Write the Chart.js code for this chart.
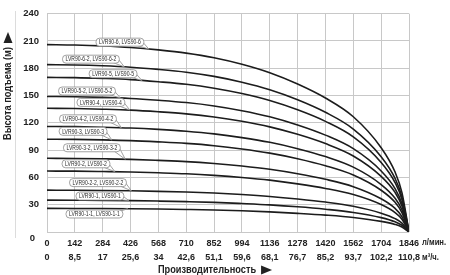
<!DOCTYPE html>
<html>
<head>
<meta charset="utf-8">
<script src="https://cdn.jsdelivr.net/npm/chart.js@4.4.1/dist/chart.umd.min.js"></script>
<style>
  html, body { margin: 0; padding: 0; background: #fff; }
  #wrap { width: 450px; height: 275px; }
</style>
</head>
<body>
<div id="wrap"><canvas id="pumpChart" width="450" height="275"></canvas></div>
<script>
// axis ticks
const flowLpm = [0, 142, 284, 426, 568, 710, 852, 994, 1136, 1278, 1420, 1562, 1704, 1846];
const flowM3h = ['0', '8,5', '17', '25,6', '34', '42,6', '51,1', '59,6', '68,1', '76,7', '85,2', '93,7', '102,2', '110,8'];
const headTicks = [0, 30, 60, 90, 120, 150, 180, 210, 240];

// flow points where the curves were read (л/мин)
const pointQ = [0, 142, 284, 426, 568, 710, 852, 994, 1136, 1278, 1420, 1562, 1704, 1775, 1810, 1846];

const models = [
  'LVR90-6, LVS90-6', 'LVR90-6-2, LVS90-6-2', 'LVR90-5, LVS90-5', 'LVR90-5-2, LVS90-5-2',
  'LVR90-4, LVS90-4', 'LVR90-4-2, LVS90-4-2', 'LVR90-3, LVS90-3', 'LVR90-3-2, LVS90-3-2',
  'LVR90-2, LVS90-2', 'LVR90-2-2, LVS90-2-2', 'LVR90-1, LVS90-1', 'LVR90-1-1, LVS90-1-1'
];

// head values (м)
const head6   = [206, 205.6, 204.6, 202.9, 200.2, 196.7, 191.6, 184.4, 175.1, 162.7, 147.3, 126.7, 92.7, 65.9, 43.3, 0];
const head6_2 = [184, 183.6, 182.7, 181.2, 178.8, 175.7, 171.1, 164.7, 156.4, 145.4, 131.6, 113.2, 82.8, 58.9, 38.6, 0];
const head5   = [170, 169.7, 168.8, 167.5, 165.2, 162.4, 158.1, 152.2, 144.5, 134.3, 121.6, 104.6, 76.5, 54.4, 35.7, 0];
const head5_2 = [149, 148.7, 148, 146.8, 144.8, 142.3, 138.6, 133.4, 126.7, 117.7, 106.5, 91.6, 67.1, 47.7, 31.3, 0];
const head4   = [136, 135.7, 135, 134, 132.2, 129.9, 126.5, 121.7, 115.6, 107.4, 97.2, 83.6, 61.2, 43.5, 28.6, 0];
const head4_2 = [116, 115.8, 115.2, 114.3, 112.8, 110.8, 107.9, 103.8, 98.6, 91.6, 82.9, 71.3, 52.2, 37.1, 24.4, 0];
const head3   = [102, 101.8, 101.3, 100.5, 99.1, 97.4, 94.9, 91.3, 86.7, 80.6, 72.9, 62.7, 45.9, 32.6, 21.4, 0];
const head3_2 = [81, 80.8, 80.4, 79.8, 78.7, 77.4, 75.3, 72.5, 68.9, 64, 57.9, 49.8, 36.5, 25.9, 17, 0];
const head2   = [67, 66.9, 66.5, 66, 65.1, 64, 62.3, 60, 57, 52.9, 47.9, 41.2, 30.2, 21.4, 14.1, 0];
const head2_2 = [46, 45.9, 45.7, 45.3, 44.7, 43.9, 42.8, 41.2, 39.1, 36.3, 32.9, 28.3, 20.7, 14.7, 9.7, 0];
const head1   = [35, 34.9, 34.8, 34.5, 34, 33.4, 32.6, 31.3, 29.8, 27.7, 25, 21.5, 15.8, 11.2, 7.4, 0];
const head1_1 = [26, 25.9, 25.8, 25.6, 25.3, 24.8, 24.2, 23.3, 22.1, 20.5, 18.6, 16, 11.7, 8.3, 5.5, 0];

const allHeads = [head6, head6_2, head5, head5_2, head4, head4_2, head3, head3_2, head2, head2_2, head1, head1_1];

// where the name tags sit (centre, in axis units)
const tagQ = [372, 224, 337, 204, 275, 209, 184, 229, 199, 260, 270, 242];
const tagH = [208.7, 190, 174, 155, 142.5, 124.4, 110.7, 92.6, 75, 54.3, 39.5, 19.8];

const FONT = '"Liberation Sans", Arial, sans-serif';

// canvas text squeezed sideways, the original uses a narrow face
function narrowText(ctx, text, x, y, sx) {
  ctx.save();
  ctx.translate(x, y);
  ctx.scale(sx, 1);
  ctx.fillText(text, 0, 0);
  ctx.restore();
}

function curveYAt(chart, idx, px) {
  const pts = chart.getDatasetMeta(idx).data;
  for (let i = 1; i < pts.length; i++) {
    if (pts[i].x >= px) {
      const a = pts[i - 1], b = pts[i];
      const t = (px - a.x) / (b.x - a.x);
      return a.y + (b.y - a.y) * t;
    }
  }
  return pts[pts.length - 1].y;
}

function roundRect(ctx, x, y, w, h, r) {
  ctx.beginPath();
  ctx.moveTo(x + r, y);
  ctx.lineTo(x + w - r, y);
  ctx.arcTo(x + w, y, x + w, y + r, r);
  ctx.lineTo(x + w, y + h - r);
  ctx.arcTo(x + w, y + h, x + w - r, y + h, r);
  ctx.lineTo(x + r, y + h);
  ctx.arcTo(x, y + h, x, y + h - r, r);
  ctx.lineTo(x, y + r);
  ctx.arcTo(x, y, x + r, y, r);
  ctx.closePath();
}

const tagsPlugin = {
  id: 'tags',
  afterDatasetsDraw(chart) {
    const ctx = chart.ctx;
    const xs = chart.scales.x, ys = chart.scales.y;
    const squeeze = 0.78;
    ctx.save();
    ctx.font = '6.5px ' + FONT;
    ctx.textAlign = 'center';
    ctx.textBaseline = 'middle';
    models.forEach((name, i) => {
      const cx = xs.getPixelForValue(tagQ[i]);
      const cy = ys.getPixelForValue(tagH[i]);
      const w = ctx.measureText(name).width * squeeze + 6;
      const h = 8;
      const left = cx - w / 2, top = cy - h / 2;
      const right = left + w, bottom = top + h;
      const tipX = right + 5;
      const tipY = curveYAt(chart, i, tipX);
      const below = tipY < cy;
      ctx.fillStyle = '#fff';
      ctx.strokeStyle = '#8a8a8a';
      ctx.lineWidth = 0.8;
      // tail
      ctx.beginPath();
      if (below) {
        ctx.moveTo(right - 6, top + 0.5);
        ctx.lineTo(tipX, tipY);
        ctx.lineTo(right - 2, top + 1);
      } else {
        ctx.moveTo(right - 6, bottom - 0.5);
        ctx.lineTo(tipX, tipY);
        ctx.lineTo(right - 1, cy);
      }
      ctx.fill();
      ctx.stroke();
      roundRect(ctx, left, top, w, h, 3.5);
      ctx.fill();
      ctx.stroke();
      ctx.fillStyle = '#2a2a2a';
      narrowText(ctx, name, cx, cy + 0.5, squeeze);
    });
    ctx.restore();
  },
  afterDraw(chart) {
    const ctx = chart.ctx;
    const area = chart.chartArea;
    ctx.save();
    // thin rule at the left
    ctx.strokeStyle = '#dcdcdc';
    ctx.lineWidth = 1;
    ctx.beginPath();
    ctx.moveTo(15.5, 11);
    ctx.lineTo(15.5, 238);
    ctx.stroke();

    ctx.fillStyle = '#222';
    // zero of the head axis sits a bit low in the original
    ctx.font = 'bold 9.5px ' + FONT;
    ctx.textAlign = 'right';
    ctx.textBaseline = 'middle';
    ctx.fillText('0', area.left - 12, area.bottom + 6);

    // units
    ctx.font = 'bold 9px ' + FONT;
    ctx.textAlign = 'left';
    narrowText(ctx, 'л/мин.', 422, 242.5, 0.85);
    narrowText(ctx, 'м³/ч.', 422, 257.5, 0.85);

    // axis titles
    ctx.font = 'bold 10px ' + FONT;
    ctx.textAlign = 'left';
    const sq = 0.92;
    const tw = ctx.measureText('Производительность').width * sq;
    narrowText(ctx, 'Производительность', 158, 270, sq);
    const ax = 158 + tw + 5;
    ctx.beginPath();
    ctx.moveTo(ax, 265.5);
    ctx.lineTo(ax + 11, 270);
    ctx.lineTo(ax, 274.5);
    ctx.closePath();
    ctx.fill();

    ctx.translate(8, 140);
    ctx.rotate(-Math.PI / 2);
    const vw = ctx.measureText('Высота подъема (м)').width * sq;
    narrowText(ctx, 'Высота подъема (м)', 0, 0, sq);
    ctx.beginPath();
    ctx.moveTo(vw + 4, -4.5);
    ctx.lineTo(vw + 15, 0);
    ctx.lineTo(vw + 4, 4.5);
    ctx.closePath();
    ctx.fill();
    ctx.restore();
  }
};

const datasets = models.map((name, i) => ({
  label: name,
  data: pointQ.map((q, k) => ({ x: q, y: allHeads[i][k] })),
  borderColor: '#1c1c1c',
  borderWidth: 1.6,
  pointRadius: 0,
  fill: false,
  cubicInterpolationMode: 'monotone'
}));

const ctx = document.getElementById('pumpChart').getContext('2d');
const chart = new Chart(ctx, {
  type: 'line',
  data: { datasets },
  plugins: [tagsPlugin],
  options: {
    responsive: false,
    animation: false,
    devicePixelRatio: 1,
    layout: { padding: { top: 12, right: 41, left: 0, bottom: 0 } },
    plugins: { legend: { display: false }, tooltip: { enabled: false } },
    scales: {
      x: {
        type: 'linear',
        min: 0,
        max: 1846,
        afterBuildTicks: scale => { scale.ticks = flowLpm.map(v => ({ value: v })); },
        afterFit: scale => { scale.height = 43; },
        ticks: {
          autoSkip: false,
          maxRotation: 0,
          padding: 4,
          color: '#222',
          font: { family: FONT, size: 9, weight: 'bold', lineHeight: 1.63 },
          callback: (v, i) => [String(flowLpm[i]), flowM3h[i]]
        },
        grid: { color: '#c8c8c8', lineWidth: 1, drawTicks: false },
        border: { display: false }
      },
      y: {
        min: 0,
        max: 240,
        afterBuildTicks: scale => { scale.ticks = headTicks.map(v => ({ value: v })); },
        afterFit: scale => { scale.width = 47; },
        ticks: {
          padding: 8,
          color: '#222',
          font: { family: FONT, size: 9.5, weight: 'bold' },
          callback: v => (v === 0 ? '' : String(v))
        },
        grid: { color: '#c8c8c8', lineWidth: 1, drawTicks: false },
        border: { display: false }
      }
    }
  }
});
</script>
</body>
</html>
